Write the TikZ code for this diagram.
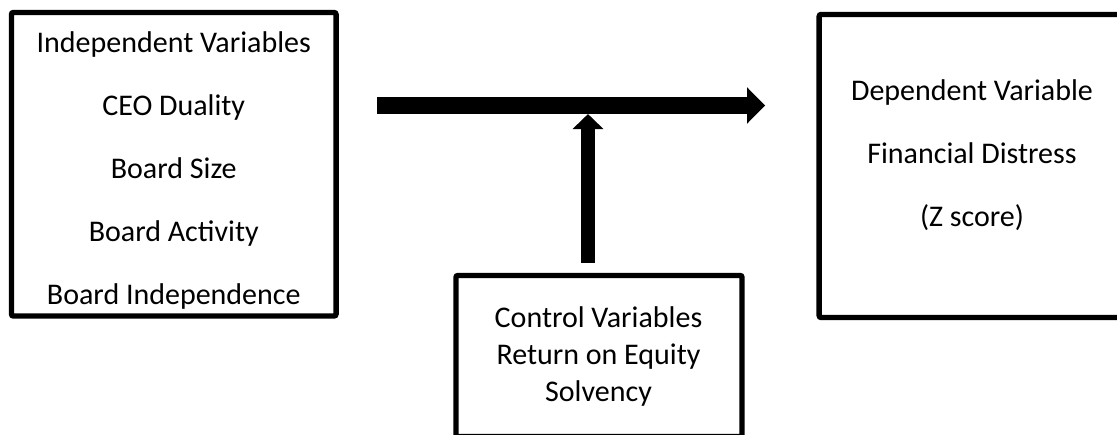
\documentclass[tikz,border=0pt]{standalone}
\usepackage{fontspec}
\setmainfont{Carlito}
\usetikzlibrary{arrows.meta}
\tikzset{
 varbox/.style={
 rectangle,
 draw=black,
 line width=4.1pt,
 rounded corners=1.5pt,
 inner sep=0pt,
 outer sep=0pt
 },
 vartext/.style={
 align=center,
 inner sep=0pt,
 font=\fontsize{22.5pt}{47.25pt}\selectfont
 },
 ctrltext/.style={
 align=center,
 inner sep=0pt,
 font=\fontsize{22.5pt}{27.4pt}\selectfont
 },
 mainarrow/.style={-{Triangle[length=13.5pt, width=26.25pt]}, line width=12.75pt},
 ctrlarrow/.style={-{Triangle[length=11.25pt, width=22.5pt]}, line width=10.5pt}
}

\begin{document}
\begin{tikzpicture}[x=0.75pt, y=-0.75pt]
 \useasboundingbox (0,0) rectangle (1117,435);
 \clip (0,0) rectangle (1117,435);

 % boxes
 \node[varbox, minimum width=243.4pt, minimum height=227.6pt] (indep) at (173.75,164.25) {};
 \node[varbox, minimum width=229.35pt, minimum height=227.25pt] (dep) at (972.1,166) {};
 \node[varbox, minimum width=214.5pt, minimum height=120.75pt] (control) at (599,356) {};

 % texts
 \node[vartext] (indeplist) at (173.75,170.5) {Independent Variables\\CEO Duality\\Board Size\\Board Activity\\Board Independence};
 \node[vartext] (deplist) at (972,155) {Dependent Variable\\Financial Distress\\(Z score)};
 \node[ctrltext] (controllist) at (598.5,356.5) {Control Variables\\Return on Equity\\Solvency};

 % arrows
 \coordinate (link) at (588,105.5);
 \draw[mainarrow, shorten <=30.75pt, shorten >=40.5pt] (indep.east |- link) -- (dep.west |- link);
 \draw[ctrlarrow, shorten <=9.4pt, shorten >=6.4pt] (control.north -| link) -- (link);
\end{tikzpicture}
\end{document}
